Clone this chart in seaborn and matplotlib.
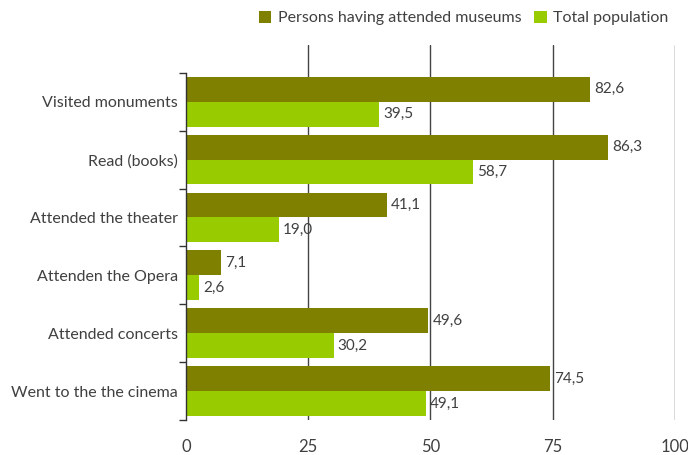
import pandas as pd
import matplotlib.pyplot as plt
import seaborn as sns

categories = ['Visited monuments', 'Read (books)', 'Attended the theater',
              'Attenden the Opera', 'Attended concerts', 'Went to the the cinema']
museum_visitors = [82.6, 86.3, 41.1, 7.1, 49.6, 74.5]
total_population = [39.5, 58.7, 19.0, 2.6, 30.2, 49.1]
series_names = ['Persons having attended museums', 'Total population']
x_ticks = [0, 25, 50, 75, 100]
colors = ['#808000', '#99cc00']

df = pd.DataFrame({
    'category': categories * 2,
    'value': museum_visitors + total_population,
    'series': [series_names[0]] * len(categories) + [series_names[1]] * len(categories),
})

sns.set_theme(style='white')
plt.rcParams['font.family'] = ['Lato', 'DejaVu Sans']
text_color = '#404040'

fig = plt.figure(figsize=(6.88, 4.55), dpi=100)
ax = fig.add_axes([0.2703, 0.0769, 0.7107, 0.8241])

sns.barplot(data=df, y='category', x='value', hue='series', order=categories,
            hue_order=series_names, palette=colors, width=0.86, saturation=1,
            linewidth=0, ax=ax, legend=True)

# Werte rechts neben den Balken, Komma als Dezimalzeichen
for container in ax.containers:
    ax.bar_label(container, labels=[f'{v:.1f}'.replace('.', ',') for v in container.datavalues],
                 padding=3, fontsize=11, color=text_color)

ax.set_xlim(0, 100)
ax.set_ylim(5.5, -0.98)
ax.set_xticks(x_ticks)
ax.set_xlabel('')
ax.set_ylabel('')
ax.tick_params(axis='x', length=0, pad=14, labelsize=12, colors=text_color)
ax.tick_params(axis='y', which='major', left=False, length=0, pad=6, labelsize=11.5,
               colors=text_color)
ax.set_yticks([i - 0.5 for i in range(len(categories) + 1)], minor=True)
ax.tick_params(axis='y', which='minor', left=True, length=5, width=1, color='#333333',
               direction='out')

# Gitterlinien (ohne Linie bei 0)
for t in x_ticks[1:]:
    ax.axvline(t, color='#444444', linewidth=1, zorder=0)

for s in ['top', 'right', 'bottom']:
    ax.spines[s].set_visible(False)
ax.spines['left'].set_color('#333333')
ax.spines['left'].set_linewidth(1)
ax.spines['left'].set_bounds(-0.5, 5.5)

handles, labels = ax.get_legend_handles_labels()
ax.legend(handles, labels, loc='center right', bbox_to_anchor=(1.0, 1.072), ncol=2,
          frameon=False, fontsize=11.5, handlelength=0.8, handleheight=0.8,
          handletextpad=0.4, columnspacing=0.8, labelcolor=text_color, borderaxespad=0)

plt.savefig('out.png', dpi=100)
plt.close()
